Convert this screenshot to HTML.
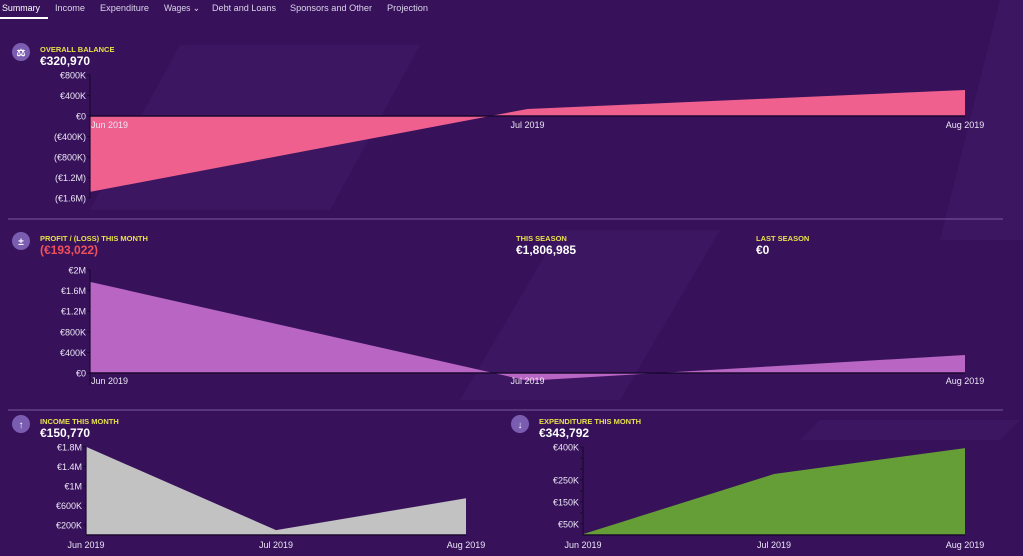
<!DOCTYPE html>
<html><head><meta charset="utf-8"><style>
html,body{margin:0;padding:0;background:#37125b;}
svg{display:block;font-family:"Liberation Sans",sans-serif;}
</style></head><body>
<svg id="s" width="1023" height="556" viewBox="0 0 1023 556" xmlns="http://www.w3.org/2000/svg">
<rect width="1023" height="556" fill="#37125b"/>
<g opacity="0.08" fill="#7a4ca5">
<polygon points="180,45 420,45 330,210 90,210"/>
<polygon points="560,230 720,230 620,400 460,400"/>
<polygon points="1000,0 1023,0 1023,240 940,240"/>
<polygon points="820,420 1020,420 1000,440 800,440"/>
</g>
<g font-size="9.5" fill="#dcd4ea">
<text x="2" y="11" fill="#ffffff" textLength="38" lengthAdjust="spacingAndGlyphs">Summary</text>
<rect x="0" y="17" width="48" height="2" fill="#fff"/>
<text x="55" y="11" textLength="30" lengthAdjust="spacingAndGlyphs">Income</text>
<text x="100" y="11" textLength="49" lengthAdjust="spacingAndGlyphs">Expenditure</text>
<text x="164" y="11" textLength="36" lengthAdjust="spacingAndGlyphs">Wages ⌄</text>
<text x="212" y="11" textLength="64" lengthAdjust="spacingAndGlyphs">Debt and Loans</text>
<text x="290" y="11" textLength="82" lengthAdjust="spacingAndGlyphs">Sponsors and Other</text>
<text x="387" y="11" textLength="41" lengthAdjust="spacingAndGlyphs">Projection</text>
</g>
<line x1="8" y1="219" x2="1003" y2="219" stroke="#7a5a9e" stroke-width="1"/>
<line x1="8" y1="410" x2="1003" y2="410" stroke="#7a5a9e" stroke-width="1"/>
</svg>
<script>
const NS="http://www.w3.org/2000/svg";
const svg=document.getElementById('s');
const months=["Jun 2019","Jul 2019","Aug 2019"];
const balanceValues=[-1480000,137000,507000];
const balanceTicks=[800000,400000,0,-400000,-800000,-1200000,-1600000];
const balanceTickLabels=["€800K","€400K","€0","(€400K)","(€800K)","(€1.2M)","(€1.6M)"];
const profitValues=[1770000,-150000,350000];
const profitTicks=[2000000,1600000,1200000,800000,400000,0];
const profitTickLabels=["€2M","€1.6M","€1.2M","€800K","€400K","€0"];
const incomeValues=[1800000,100000,750000];
const incomeTicks=[1800000,1400000,1000000,600000,200000];
const incomeTickLabels=["€1.8M","€1.4M","€1M","€600K","€200K"];
const expValues=[4000,277000,395000];
const expTicks=[400000,250000,150000,50000];
const expTickLabels=["€400K","€250K","€150K","€50K"];
const expMinor=[350000,300000,200000,100000];

function el(tag,attrs,parent,txt){const e=document.createElementNS(NS,tag);for(const k in attrs)e.setAttribute(k,attrs[k]);if(txt!==undefined)e.textContent=txt;(parent||svg).appendChild(e);return e;}

function chart(o){
  const g=el('g',{});
  
  
  const xs=i=>o.x0+(o.x1-o.x0)*i/(months.length-1);
  const ys=v=>o.yZero-(v/o.per)*o.pxPer;
  let d='M'+xs(0)+','+ys(0);
  o.values.forEach((v,i)=>{d+=' L'+xs(i)+','+ys(v);});
  d+=' L'+xs(months.length-1)+','+ys(0)+' Z';
  const a=el('path',{d:d,fill:o.color},g);
  
  
  const xa=el('line',{x1:o.x0,x2:o.x1,y1:ys(0),y2:ys(0),stroke:'#1a0830','stroke-width':1.5},g);
  
  
  const top=ys(o.ticks[0]), bot=Math.max(ys(o.ticks[o.ticks.length-1]),ys(0));
  const ya=el('line',{x1:o.x0,x2:o.x0,y1:top,y2:bot+(o.extendY||0),stroke:'#1a0830','stroke-width':1.2},g);
  
  
  o.ticks.forEach((t,i)=>{
    const y=ys(t);
    el('line',{x1:o.x0-3,x2:o.x0,y1:y,y2:y,stroke:'#1a0830'},g);
    const tx=el('text',{x:o.x0-4,y:y+3.5,'text-anchor':'end','font-size':9,fill:'#ece6f4'},g,o.labels[i]);
    
    
  });
  (o.minor||[]).forEach(t=>{const y=ys(t);el('line',{x1:o.x0-3,x2:o.x0,y1:y,y2:y,stroke:'#1a0830'},g);});
  months.forEach((m,i)=>{
    const x=xs(i);
    let anchor='middle', tx0=x;
    if(o.firstLeft&&i===0){anchor='start';tx0=x+1;}
    const t=el('text',{x:tx0,y:o.labelY,'text-anchor':anchor,'font-size':9,fill:'#ece6f4'},g,m);
    
    
  });
}
chart({name:'overall-balance-chart',x0:90,x1:965,yZero:116,per:400000,pxPer:20.5,values:balanceValues,ticks:balanceTicks,labels:balanceTickLabels,color:'#f0608f',labelY:128,firstLeft:true});
chart({name:'profit-loss-chart',x0:90,x1:965,yZero:373,per:400000,pxPer:20.6,values:profitValues,ticks:profitTicks,labels:profitTickLabels,color:'#b865c4',labelY:384,firstLeft:true,extendY:12});
chart({name:'income-chart',x0:86,x1:466,yZero:535,per:400000,pxPer:19.6,values:incomeValues,ticks:incomeTicks,labels:incomeTickLabels,color:'#c2c2c2',labelY:548});
chart({name:'expenditure-chart',x0:583,x1:965,yZero:535,per:100000,pxPer:22,values:expValues,ticks:expTicks,labels:expTickLabels,minor:expMinor,color:'#659e37',labelY:548});

function head(x,y,label,value,name,valColor,icon){
  const g=el('g',{});
  
  
  if(icon){
    const c=el('circle',{cx:x-19,cy:y+3,r:9,fill:'#7a5cb0'},g);
    
    
    el('text',{x:x-19,y:y+7,'text-anchor':'middle','font-size':10,'font-weight':'bold',fill:'#fff'},g,icon);
  }
  el('text',{x:x,y:y+3,'font-size':7.5,'font-weight':'bold',fill:'#e6e04a'},g,label);
  el('text',{x:x,y:y+16,'font-size':12,'font-weight':'bold',fill:valColor},g,value);
}
head(40,49,'OVERALL BALANCE','€320,970','overall-balance-header','#ffffff','⚖');
head(40,238,'PROFIT / (LOSS) THIS MONTH','(€193,022)','profit-loss-header','#f0505a','±');
head(516,238,'THIS SEASON','€1,806,985','this-season-header','#ffffff',null);
head(756,238,'LAST SEASON','€0','last-season-header','#ffffff',null);
head(40,421,'INCOME THIS MONTH','€150,770','income-header','#ffffff','↑');
head(539,421,'EXPENDITURE THIS MONTH','€343,792','expenditure-header','#ffffff','↓');
</script>
</body></html>
